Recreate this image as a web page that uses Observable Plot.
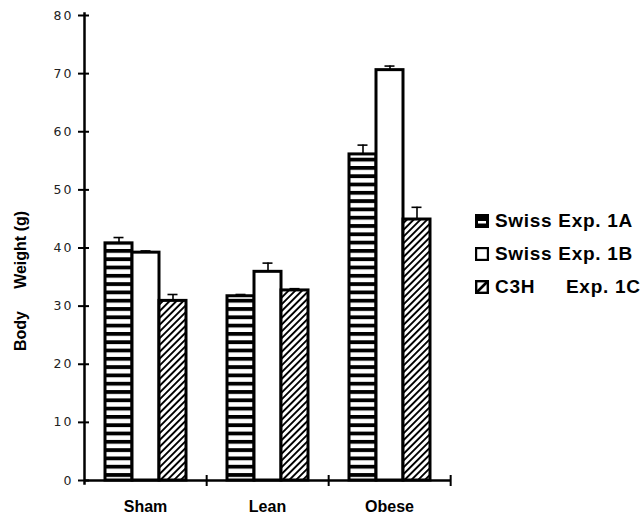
<!DOCTYPE html>
<html>
<head>
<meta charset="utf-8">
<script src="https://cdn.jsdelivr.net/npm/d3@7"></script>
<script src="https://cdn.jsdelivr.net/npm/@observablehq/plot@0.6"></script>
<style>
  html, body { margin: 0; padding: 0; background: #fff; }
  #wrap { position: relative; width: 642px; height: 515px; overflow: hidden; }
  #wrap svg.plot [aria-label="y-axis tick label"] text { letter-spacing: 2px; }
  #legend { position: absolute; left: 475px; top: 204px; font-family: "Liberation Sans", Arial, sans-serif;
            font-weight: bold; font-size: 19px; letter-spacing: 0.7px; color: #000; }
  #legend .row { display: flex; align-items: center; height: 33px; white-space: nowrap; }
  #legend svg { margin-right: 6px; flex: none; }
  #legend .c3h { display: inline-block; width: 71px; }
</style>
</head>
<body>
<div id="wrap"></div>
<script>
// ---- data ----
const categories = ["Sham", "Lean", "Obese"];
const series = ["Swiss Exp. 1A", "Swiss Exp. 1B", "C3H Exp. 1C"];
const exp1A = [40.8, 31.7, 56.1];
const exp1B = [39.2, 35.9, 70.6];
const exp1C = [30.9, 32.7, 44.9];
const err1A = [1.0, 0.3, 1.6];
const err1B = [0.3, 1.5, 0.7];
const err1C = [1.1, 0.3, 2.1];
const yTicks = [0, 10, 20, 30, 40, 50, 60, 70, 80];
const yLabel = "Body\u00a0\u00a0\u00a0\u00a0\u00a0Weight (g)";

const values = [exp1A, exp1B, exp1C];
const errors = [err1A, err1B, err1C];
const patternIds = ["pat-stripes", "pat-white", "pat-hatch"];

const data = [];
series.forEach((s, j) => categories.forEach((c, i) => {
  data.push({category: c, series: s, value: values[j][i], err: errors[j][i]});
}));

// ---- layout ----
const W = 642, H = 515, mL = 83, mR = 192, mT = 15, mB = 35;
const halfBand = (W - mL - mR) / categories.length / 2;

const plot = Plot.plot({
  width: W, height: H,
  marginLeft: mL, marginRight: mR, marginTop: mT, marginBottom: mB,
  style: {fontFamily: "Liberation Sans, Arial, sans-serif", fontSize: "12px", color: "#000", background: "#fff"},
  fx: {domain: categories, padding: 0, axis: null, label: null},
  x: {domain: series, paddingInner: 0, paddingOuter: 0.684, axis: null, label: null},
  y: {domain: [0, 80], axis: null, label: null},
  marks: [
    ...series.map((s, j) => Plot.barY(data.filter(d => d.series === s), {
      fx: "category", x: "series", y: "value",
      fill: `url(#${patternIds[j]})`, stroke: "#000", strokeWidth: 3
    })),
    Plot.ruleX(data, {fx: "category", x: "series", y1: "value", y2: d => d.value + d.err, stroke: "#000", strokeWidth: 1.6}),
    Plot.tickY(data, {fx: "category", x: "series", y: d => d.value + d.err, insetLeft: 8.5, insetRight: 8.5, stroke: "#000", strokeWidth: 1.6}),
    Plot.ruleY([0], {stroke: "#000", strokeWidth: 2.5}),
    Plot.frame({anchor: "left", facetAnchor: "left", stroke: "#000", strokeWidth: 2.5, insetTop: -2, insetBottom: -3}),
    Plot.axisY({ticks: yTicks, tickFormat: d => d, tickSize: 11, dx: 5, tickPadding: 5, strokeWidth: 2,
      fontFamily: "DejaVu Sans, sans-serif", fontSize: 12.5, fill: "#222", label: null}),
    Plot.axisFx({anchor: "bottom", tickSize: 11, dy: -5, dx: halfBand, tickFormat: () => "", strokeWidth: 2, label: null}),
    Plot.axisFx({anchor: "bottom", tickSize: 0, tickPadding: 20, fontSize: 16, fontWeight: "bold", label: null}),
    Plot.text([yLabel], {text: d => d, frameAnchor: "left", facetAnchor: "left", textAnchor: "middle",
      lineAnchor: "middle", rotate: -90, dx: -64, dy: 33,
      fontSize: 16, fontWeight: "bold", fill: "#000"})
  ]
});
plot.classList.add("plot");

// patterns
const svg = d3.select(plot);
const defs = svg.insert("defs", ":first-child");
const st = defs.append("pattern").attr("id", "pat-stripes").attr("patternUnits", "userSpaceOnUse")
  .attr("width", 10).attr("height", 8.3);
st.append("rect").attr("width", 10).attr("height", 8.3).attr("fill", "#fff");
st.append("rect").attr("width", 10).attr("height", 3.8).attr("fill", "#000");
const wh = defs.append("pattern").attr("id", "pat-white").attr("patternUnits", "userSpaceOnUse")
  .attr("width", 10).attr("height", 10);
wh.append("rect").attr("width", 10).attr("height", 10).attr("fill", "#fff");
const ht = defs.append("pattern").attr("id", "pat-hatch").attr("patternUnits", "userSpaceOnUse")
  .attr("width", 4.8).attr("height", 4.8).attr("patternTransform", "rotate(45)");
ht.append("rect").attr("width", 4.8).attr("height", 4.8).attr("fill", "#fff");
ht.append("rect").attr("width", 1.9).attr("height", 4.8).attr("fill", "#000");

const wrap = document.getElementById("wrap");
wrap.appendChild(plot);

// legend
const legend = document.createElement("div");
legend.id = "legend";
const swatches = [
  `<svg width="14" height="14"><rect x="0" y="0" width="14" height="14" fill="#000"/><rect x="3" y="7" width="8" height="2.5" fill="#fff"/></svg>`,
  `<svg width="14" height="14"><rect x="1.1" y="1.1" width="11.8" height="11.8" fill="#fff" stroke="#000" stroke-width="2.2"/></svg>`,
  `<svg width="14" height="14"><rect x="1.2" y="1.2" width="11.6" height="11.6" fill="#fff" stroke="#000" stroke-width="2.4"/><line x1="2" y1="12" x2="12" y2="2" stroke="#000" stroke-width="2.6"/></svg>`
];
series.forEach((s, j) => {
  const row = document.createElement("div");
  row.className = "row";
  let label = s;
  if (s.startsWith("C3H")) {
    const parts = s.split(" ");
    label = `<span class="c3h">${parts[0]}</span>${parts.slice(1).join(" ")}`;
  }
  row.innerHTML = swatches[j] + `<span>${label}</span>`;
  legend.appendChild(row);
});
wrap.appendChild(legend);
</script>
</body>
</html>
